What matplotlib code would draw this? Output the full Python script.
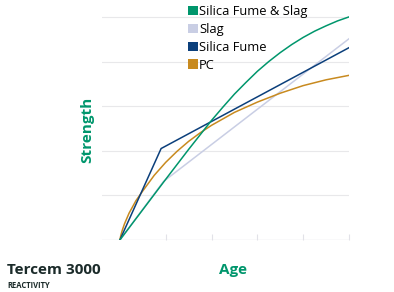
import matplotlib as mpl
mpl.use('Agg')
import matplotlib.pyplot as plt
from matplotlib.patches import Patch

plt.rcParams['font.family'] = ['Open Sans', 'DejaVu Sans']

# age positions (tick units) and strength values
green_x = [0, 0.5, 1, 1.5, 2, 2.25, 2.5, 2.75, 3, 3.25, 3.5, 3.75, 4, 4.25, 4.5, 4.75, 5]
sf_slag = [0, 0.68, 1.36, 2.03, 2.68, 2.98, 3.27, 3.53, 3.78, 4.0, 4.2, 4.38, 4.54, 4.68, 4.8, 4.91, 5.0]
pc_x = [0, 0.02, 0.05, 0.1, 0.2, 0.35, 0.5, 0.75, 1, 1.25, 1.5, 1.75, 2, 2.5, 3, 3.5, 4, 4.5, 5]
pc = [0, 0.1, 0.21, 0.36, 0.6, 0.88, 1.1, 1.45, 1.74, 1.99, 2.21, 2.4, 2.57, 2.86, 3.09, 3.29, 3.46, 3.59, 3.69]
slag_x = [0, 0.95, 5]
slag = [0, 1.31, 4.51]
sf_x = [0, 0.9, 5]
sf = [0, 2.05, 4.31]

labels = ['Silica Fume & Slag', 'Slag', 'Silica Fume', 'PC']
colors = ['#00966C', '#C9CEE4', '#0B3F7B', '#C88A1F']
green = '#00966C'

fig = plt.figure(figsize=(3.94, 2.92), dpi=100)
ax = fig.add_axes([102/394, 52/292, 247/394, 224/292])
ax.set_xlim(-0.39, 5.0)
ax.set_ylim(0, 5.02)

for y in [1, 2, 3, 4, 5]:
	ax.axhline(y, color='#E8E8EA', lw=0.8, zorder=0)
ax.axhline(0, color='#E2E2E8', lw=1.0, zorder=0)

ax.plot(slag_x, slag, color=colors[1], lw=1.1)
ax.plot(pc_x, pc, color=colors[3], lw=1.1)
ax.plot(sf_x, sf, color=colors[2], lw=1.1)
ax.plot(green_x, sf_slag, color=colors[0], lw=1.1)

for s in ax.spines.values():
	s.set_visible(False)
ax.set_xticks([1, 2, 3, 4, 5])
ax.set_xticklabels([])
ax.set_yticks([])
ax.tick_params(axis='x', direction='in', length=4, width=0.8, color='#E2E2E8')

handles = [Patch(facecolor=c, edgecolor='none') for c in colors]
fig.legend(handles, labels, loc='upper left', bbox_to_anchor=(188/394, 1 - 5/292),
	frameon=False, fontsize=9.3, handlelength=0.75, handleheight=0.75,
	handletextpad=0.12, labelspacing=0.38, borderaxespad=0, borderpad=0)

fig.text(87/394, 1 - 130/292, 'Strength', rotation=90, color=green,
	fontsize=11, fontweight='bold', ha='center', va='center')
fig.text(233/394, 1 - 270/292, 'Age', color=green,
	fontsize=11, fontweight='bold', ha='center', va='center')
fig.text(7/394, 1 - 270/292, 'Tercem 3000', color='#1B2B2A',
	fontsize=11, fontweight='bold', ha='left', va='center')
fig.text(7/394, 1 - 286/292, 'REACTIVITY', color='#1B2B2A',
	fontsize=5.5, fontweight='bold', ha='left', va='center')

fig.savefig('out.png', dpi=100)
